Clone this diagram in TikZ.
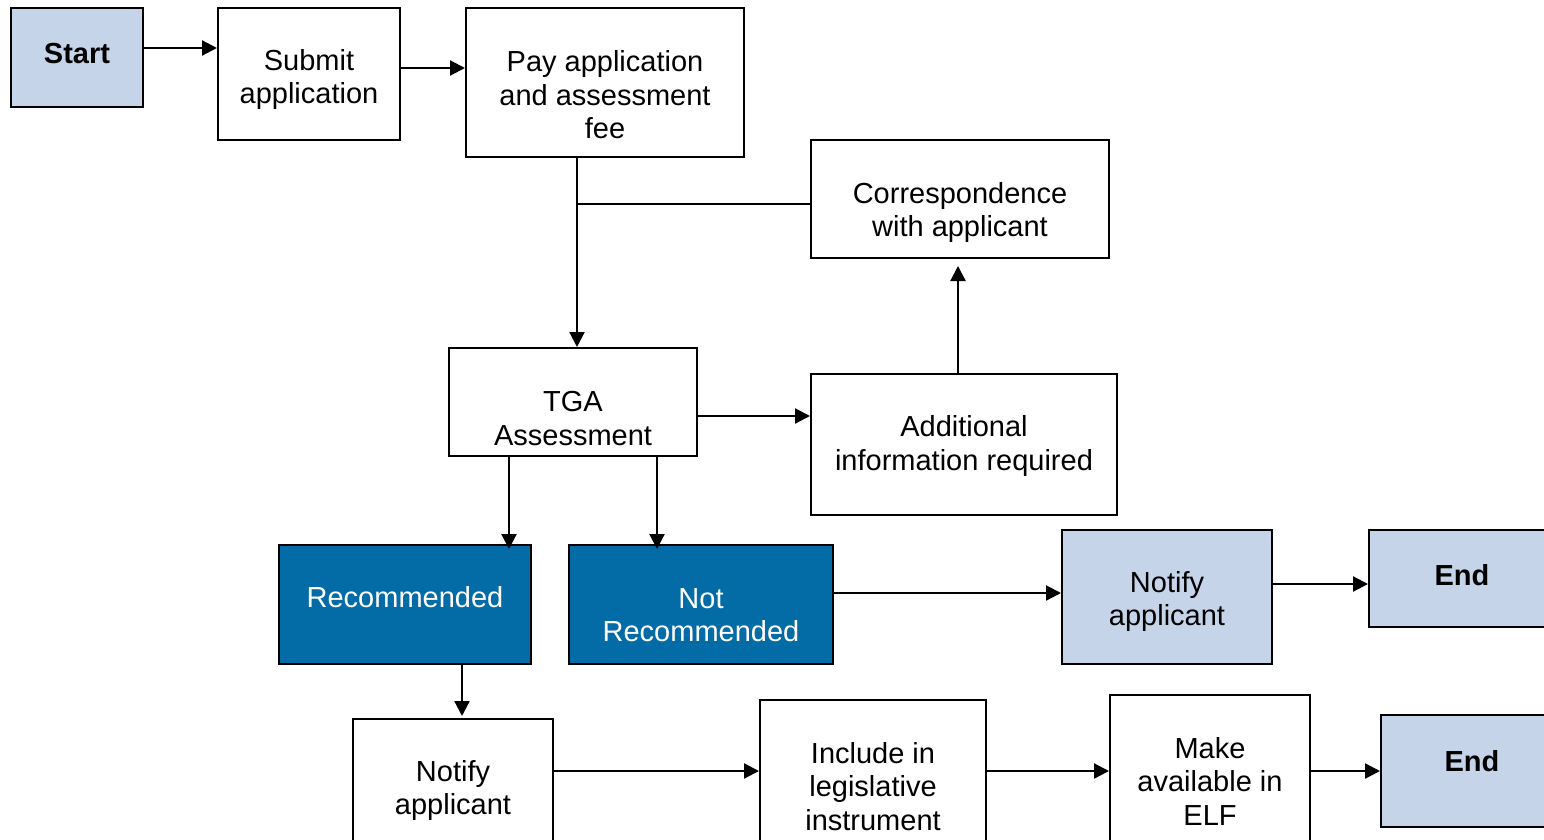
\documentclass[tikz,border=0pt]{standalone}
\usepackage{fontspec}
\setmainfont{Liberation Sans}
\usetikzlibrary{arrows.meta,calc}
\definecolor{paleblue}{RGB}{198,212,233}
\definecolor{deepblue}{RGB}{3,107,166}
\begin{document}
\begin{tikzpicture}[x=1pt,y=-1pt,
  font=\fontsize{29}{33.5}\selectfont,
  box/.style={draw=black, line width=2pt, inner sep=0pt, fill=white},
  pale/.style={box, fill=paleblue},
  deep/.style={box, fill=deepblue},
  lbl/.style={align=center, inner sep=0pt},
  arr/.style={line width=2.2pt, -{Triangle[length=15pt,width=15pt]}},
  link/.style={line width=2.2pt}]
\clip (0,0) rectangle (1544,840);
\fill[white] (0,0) rectangle (1544,840);

% boxes
\node[pale, minimum width=132pt, minimum height=99pt]  (start)   at (77,57.5)   {};
\node[box,  minimum width=182pt, minimum height=132pt] (submit)  at (309,74)    {};
\node[box,  minimum width=278pt, minimum height=149pt] (pay)     at (605,82.5)  {};
\node[box,  minimum width=298pt, minimum height=118pt] (corr)    at (960,199)   {};
\node[box,  minimum width=248pt, minimum height=108pt] (tga)     at (573,402)   {};
\node[box,  minimum width=306pt, minimum height=141pt] (add)     at (964,444.5) {};
\node[deep, minimum width=252pt, minimum height=119pt] (rec)     at (405,604.5) {};
\node[deep, minimum width=264pt, minimum height=119pt] (notrec)  at (701,604.5) {};
\node[pale, minimum width=210pt, minimum height=134pt] (notify)  at (1167,597)  {};
\node[pale, minimum width=186pt, minimum height=97pt]  (endA)    at (1462,578.5){};
\node[box,  minimum width=200pt, minimum height=151pt] (notifyb) at (453,794.5) {};
\node[box,  minimum width=226pt, minimum height=180pt] (include) at (873,790)   {};
\node[box,  minimum width=200pt, minimum height=185pt] (make)    at (1210,787.5){};
\node[pale, minimum width=182pt, minimum height=112pt] (endB)    at (1472,771)  {};

% labels
\node[lbl, font=\fontsize{29}{33.5}\selectfont\bfseries] (startT) at (77,54) {Start};
\node[lbl] (submitT)  at (309,79.5)  {Submit\\application};
\node[lbl] (payT)     at (605,95)    {Pay application\\and assessment\\fee};
\node[lbl] (corrT)    at (960,212.5) {Correspondence\\with applicant};
\node[lbl] (tgaT)     at (573,418.5) {TGA\\Assessment};
\node[lbl] (addT)     at (964,446)   {Additional\\information required};
\node[lbl, text=white] (recT)    at (405,597) {Recommended};
\node[lbl, text=white] (notrecT) at (701,615) {Not\\Recommended};
\node[lbl] (notifyT)  at (1167,601.5) {Notify\\applicant};
\node[lbl, font=\fontsize{29}{33.5}\selectfont\bfseries] (endAT) at (1462,575) {End};
\node[lbl] (notifybT) at (453,790.5) {Notify\\applicant};
\node[lbl] (includeT) at (873,786.5) {Include in\\legislative\\instrument};
\node[lbl] (makeT)    at (1210,781)  {Make\\available in\\ELF};
\node[lbl, font=\fontsize{29}{33.5}\selectfont\bfseries] (endBT) at (1472,761) {End};

% connectors
\coordinate (j) at (577,204);
\draw[arr] (start.east |- 0,48) -- (submit.west |- 0,48);
\draw[arr] (submit.east |- 0,68) -- (pay.west |- 0,68);
\draw[arr] (pay.south -| j) -- (tga.north -| j);
\draw[link] (corr.west |- j) -- (j);
\draw[arr] (tga.east |- 0,416) -- (add.west |- 0,416);
\draw[arr, shorten >=7pt] (add.north -| 958,0) -- (corr.south -| 958,0);
\draw[arr, shorten >=-5pt] (tga.south -| 509,0) -- (rec.north -| 509,0);
\draw[arr, shorten >=-5pt] (tga.south -| 657,0) -- (notrec.north -| 657,0);
\draw[arr] (notrec.east |- 0,593) -- (notify.west |- 0,593);
\draw[arr] (notify.east |- 0,584) -- (endA.west |- 0,584);
\draw[arr, shorten >=2pt] (rec.south -| 462,0) -- (notifyb.north -| 462,0);
\draw[arr] (notifyb.east |- 0,771) -- (include.west |- 0,771);
\draw[arr] (include.east |- 0,771) -- (make.west |- 0,771);
\draw[arr] (make.east |- 0,771) -- (endB.west |- 0,771);
\end{tikzpicture}
\end{document}
